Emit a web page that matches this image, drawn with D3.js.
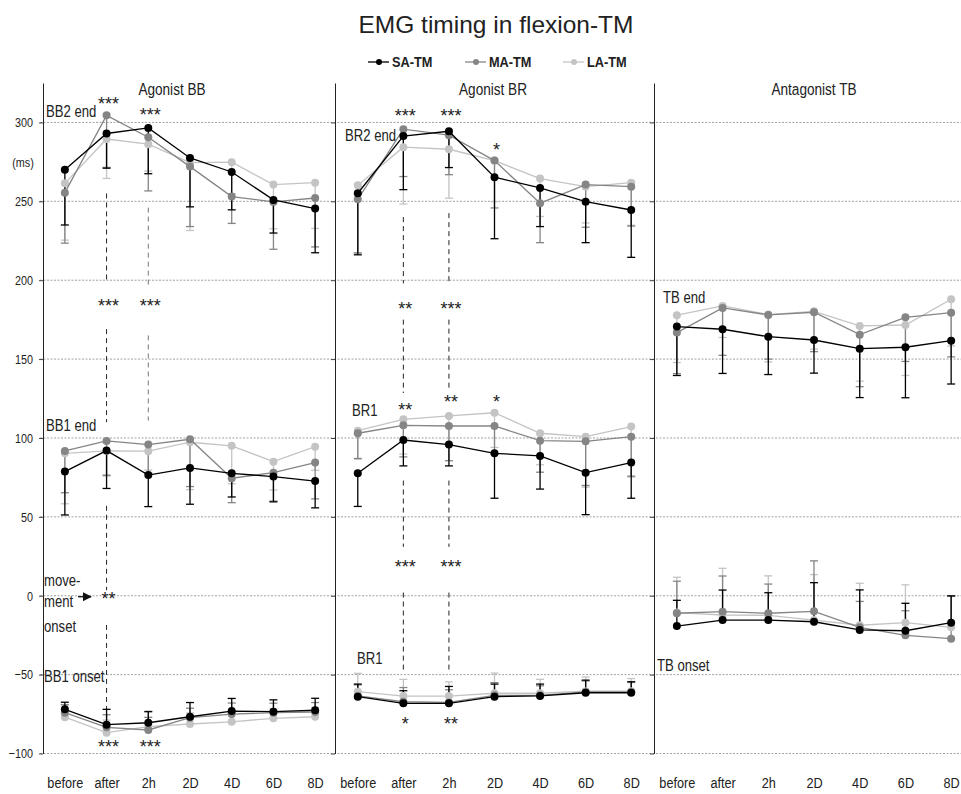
<!DOCTYPE html>
<html>
<head>
<meta charset="utf-8">
<script src="https://cdn.jsdelivr.net/npm/d3@7"></script>
<style>
  body { margin: 0; background: #fff; }
  text { font-family: "Liberation Sans", Arial, sans-serif; fill: #222; }
</style>
</head>
<body>
<div id="chart"></div>
<script>
// categories and series
var categories = ["before", "after", "2h", "2D", "4D", "6D", "8D"];
var seriesNames = ["SA-TM", "MA-TM", "LA-TM"];
var panelTitles = ["Agonist BB", "Agonist BR", "Antagonist TB"];
var yTicks = [-100, -50, 0, 50, 100, 150, 200, 250, 300];

// Agonist BB (rows: SA, MA, LA)
var bb2EndMean = [[270, 293, 296.5, 277.5, 268.6, 250.9, 245.4],
                  [255.5, 304.5, 290.6, 272, 253, 249.6, 252.1],
                  [261.4, 289.5, 286.2, 274.5, 274.8, 260.6, 261.8]];
var bb2EndErr  = [[35, 22, 29, 31, 24, 21, 28],
                  [32, 33, 34, 38, 17, 30, 31],
                  [36, 25, 17, 43, 20, 28, 29]];
var bb1EndMean = [[78.7, 92, 76.5, 81, 77.6, 75.5, 72.7],
                  [91.8, 98.1, 95.8, 99.2, 74.5, 78, 84.4],
                  [90.3, 91.8, 91.6, 97.3, 95, 85, 94.5]];
var bb1EndErr  = [[27.5, 24, 20, 23, 15, 16, 17],
                  [26.5, 22, 18, 30, 15.5, 18, 23],
                  [32, 15, 12, 30, 24, 18, 15]];
var bb1OnsetMean = [[-72, -81.7, -80.5, -76.7, -73.1, -73.5, -72.6],
                    [-74.1, -83.4, -85.1, -77.3, -75, -74.1, -73.7],
                    [-77, -86.8, -83, -81.3, -79.9, -77.7, -76.7]];
var bb1OnsetErr  = [[4.5, 9.7, 7, 9, 8, 7.5, 7.6],
                    [5, 8, 8, 6, 7, 6, 6],
                    [8, 8, 10, 7, 6, 6, 6]];

// Agonist BR
var br2EndMean = [[255.1, 291.4, 294.4, 265.3, 258.5, 249.8, 244.5],
                  [251.3, 295.7, 291.9, 275.8, 248.8, 260.6, 259.3],
                  [260.2, 284.3, 283, 275.8, 264.4, 259.3, 261.8]];
var br2EndErr  = [[39, 34, 23, 39, 24.5, 26, 30],
                  [34, 30, 25, 30, 25, 27, 25],
                  [43, 36, 31, 26, 24, 23, 27]];
var br1EndMean = [[77.6, 98.7, 95.8, 90.3, 88.6, 78, 84.4],
                  [103, 108, 107.6, 107.6, 98.3, 97.9, 100.8],
                  [104.6, 111.8, 114, 116, 103, 100.8, 107.2]];
var br1EndErr  = [[21, 16.4, 13.5, 28.5, 21, 26.6, 22.6],
                  [16, 20, 22, 18, 20, 28, 25],
                  [18, 22, 19, 22, 20, 32, 32]];
var br1OnsetMean = [[-64, -68.2, -68.2, -64, -63.5, -61.5, -61.5],
                    [-63.5, -67.2, -67.6, -63.1, -63.1, -61, -61],
                    [-60.8, -63.6, -63.6, -61.8, -61.8, -60.5, -60.5]];
var br1OnsetErr  = [[8, 8, 10.7, 8, 7.5, 8, 7],
                    [7, 9, 8, 8, 6, 7, 6],
                    [11.6, 10.6, 9, 12.8, 8.8, 9, 8]];

// Antagonist TB
var tbEndMean = [[170.6, 168.9, 164.2, 162.1, 156.6, 157.5, 161.7],
                 [166.8, 182.4, 178, 179.7, 165.5, 176.5, 179.4],
                 [177.8, 183.7, 178.2, 180.3, 171, 171.6, 187.9]];
var tbEndErr  = [[31, 28, 24, 21, 31, 32, 27.5],
                 [26, 30, 28, 25, 33, 28, 28],
                 [30, 20, 30, 24, 35, 32, 29.6]];
var tbOnsetMean = [[-19.2, -15.4, -15.4, -16.5, -21.7, -22.2, -17.1],
                   [-11.1, -10.1, -11.1, -9.9, -20, -25.1, -27.2],
                   [-10.7, -12.2, -12.4, -15.4, -18.7, -17.1, -20]];
var tbOnsetErr  = [[16.3, 19, 17.3, 24.8, 25.4, 17.4, 17],
                   [20.3, 22.6, 18.5, 32, 16.4, 15.6, 27],
                   [22.4, 29.6, 25, 28.8, 26.6, 24, 20]];

// significance marks: [panel, category, ms, text]
var stars = [
  [0, "after", 315, "***"], [0, "2h", 308, "***"],
  [0, "after", 187, "***"], [0, "2h", 187, "***"],
  [0, "after", 1.5, "**"],
  [0, "after", -92.5, "***"], [0, "2h", -92.5, "***"],
  [1, "after", 307.5, "***"], [1, "2h", 307.5, "***"], [1, "2D", 285.5, "*"],
  [1, "after", 185, "**"], [1, "2h", 185, "***"],
  [1, "after", 121, "**"], [1, "2h", 126, "**"], [1, "2D", 126, "*"],
  [1, "after", 21.5, "***"], [1, "2h", 21.5, "***"],
  [1, "after", -78, "*"], [1, "2h", -78, "**"]
];
// dashed connectors: [panel, category, ms from, ms to]
var connectors = [
  [0, "after", 255, 199.5], [0, "after", 169, 110], [0, "after", 57, 3.5], [0, "after", -18.5, -77.5],
  [0, "2h", 246, 197], [0, "2h", 165, 111],
  [1, "after", 240, 198], [1, "after", 175, 128.5], [1, "after", 73, 31], [1, "after", 2, -47],
  [1, "2h", 242.5, 198], [1, "2h", 175, 130.5], [1, "2h", 73, 31], [1, "2h", 2, -48]
];
// muscle labels: [panel, ms, text]
var muscleLabels = [
  [0, 306.8, "BB2 end"], [0, 108.2, "BB1 end"], [0, -51.3, "BB1 onset"],
  [0, 10, "move-"], [0, -3.8, "ment"], [0, -19.6, "onset"],
  [1, 292, "BR2 end"], [1, 117.7, "BR1"], [1, -39.5, "BR1"],
  [2, 189.4, "TB end"], [2, -43.9, "TB onset"]
];

var colors = ["#000000", "#858585", "#c4c4c4"];
var W = 961, H = 794;

// squeeze text horizontally around its x anchor (narrow face look)
function narrow(sel, k) {
    sel.each(function () {
        var t = d3.select(this);
        var x = +t.attr("x") || 0;
        t.attr("transform", "translate(" + x + ",0) scale(" + k + ",1) translate(" + (-x) + ",0)");
    });
}

var svg = d3.select("#chart").append("svg")
    .attr("width", W)
    .attr("height", H);

var y = d3.scaleLinear().domain([-100, 325]).range([753.5, 83]);

// panel extents along x
var panelRanges = [[44, 336], [335, 654], [654, 974]];
var xs = panelRanges.map(function (r) {
    return d3.scalePoint().domain(categories).range(r).padding(0.5);
});

// title
svg.append("text")
    .attr("x", 496).attr("y", 33)
    .attr("text-anchor", "middle")
    .attr("font-size", "24.5px")
    .text("EMG timing in flexion-TM");

// legend
var legendX = [368, 465, 563];
var legend = svg.append("g");
seriesNames.forEach(function (name, i) {
    var g = legend.append("g").attr("transform", "translate(" + legendX[i] + ",62)");
    g.append("line").attr("x1", 0).attr("x2", 21).attr("stroke", colors[i]).attr("stroke-width", 1.3);
    g.append("circle").attr("cx", 11).attr("r", 3).attr("fill", colors[i]);
    g.append("text").attr("x", 24).attr("dy", "0.36em")
        .attr("font-size", "14.5px").attr("font-weight", "bold").text(name)
        .call(narrow, 0.88);
});

// grid lines
svg.append("g").selectAll("line")
    .data(yTicks)
    .enter().append("line")
    .attr("x1", 40).attr("x2", W)
    .attr("y1", function (d) { return y(d); })
    .attr("y2", function (d) { return y(d); })
    .attr("stroke", "#8a8a8a")
    .attr("stroke-width", 0.8)
    .attr("stroke-dasharray", "2,1.5");

// panel axes
panelRanges.forEach(function (r, p) {
    var ax = d3.axisLeft(y).tickValues(yTicks).tickSize(4).tickSizeOuter(0).tickPadding(6);
    if (p > 0) ax.tickFormat("");
    var g = svg.append("g")
        .attr("transform", "translate(" + (p === 0 ? 43 : r[0]) + ",0)")
        .call(ax);
    g.select(".domain").attr("stroke", "#222");
    g.selectAll(".tick line").attr("stroke", "#444");
    g.selectAll("text").attr("font-size", "13.5px").attr("fill", "#222")
        .style("font-family", "'Liberation Sans', Arial, sans-serif")
        .call(narrow, 0.8);

    // x labels
    var xa = svg.append("g")
        .attr("transform", "translate(0," + y(-100) + ")")
        .call(d3.axisBottom(xs[p]).tickSize(0).tickPadding(23));
    xa.select(".domain").remove();
    xa.selectAll("text").attr("font-size", "15.5px").attr("fill", "#222")
        .style("font-family", "'Liberation Sans', Arial, sans-serif")
        .call(narrow, 0.82);

    // panel title
    svg.append("text")
        .attr("x", [172, 493, 814][p]).attr("y", 95)
        .attr("text-anchor", "middle")
        .attr("font-size", "17px")
        .text(panelTitles[p])
        .call(narrow, 0.8);
});

svg.append("text")
    .attr("x", 23).attr("y", 162).attr("dy", "0.35em")
    .attr("text-anchor", "middle").attr("font-size", "13.5px")
    .text("(ms)")
    .call(narrow, 0.8);

// dashed connectors
svg.append("g").selectAll("line")
    .data(connectors)
    .enter().append("line")
    .attr("x1", function (d) { return xs[d[0]](d[1]); })
    .attr("x2", function (d) { return xs[d[0]](d[1]); })
    .attr("y1", function (d) { return y(d[2]); })
    .attr("y2", function (d) { return y(d[3]); })
    .attr("stroke", function (d) { return d[0] === 0 && d[1] === "2h" ? "#777" : "#222"; })
    .attr("stroke-width", 1)
    .attr("stroke-dasharray", "5,4");

// data groups
var groups = [
    {panel: 0, mean: bb2EndMean, err: bb2EndErr, dir: -1},
    {panel: 0, mean: bb1EndMean, err: bb1EndErr, dir: -1},
    {panel: 0, mean: bb1OnsetMean, err: bb1OnsetErr, dir: 1},
    {panel: 1, mean: br2EndMean, err: br2EndErr, dir: -1},
    {panel: 1, mean: br1EndMean, err: br1EndErr, dir: -1},
    {panel: 1, mean: br1OnsetMean, err: br1OnsetErr, dir: 1},
    {panel: 2, mean: tbEndMean, err: tbEndErr, dir: -1},
    {panel: 2, mean: tbOnsetMean, err: tbOnsetErr, dir: 1}
];

var line = d3.line();
var order = [2, 1, 0];

groups.forEach(function (grp) {
    var x = xs[grp.panel];
    var g = svg.append("g");

    // error bars
    order.forEach(function (s) {
        var pts = grp.mean[s].map(function (v, i) {
            return {x: x(categories[i]), v: v, e: v + grp.dir * grp.err[s][i]};
        });
        var eb = g.append("g").attr("stroke", colors[s]).attr("stroke-width", 1.3);
        eb.selectAll("line.v").data(pts).enter().append("line")
            .attr("x1", function (d) { return d.x; })
            .attr("x2", function (d) { return d.x; })
            .attr("y1", function (d) { return y(d.v); })
            .attr("y2", function (d) { return y(d.e); });
        eb.selectAll("line.c").data(pts).enter().append("line")
            .attr("x1", function (d) { return d.x - 4; })
            .attr("x2", function (d) { return d.x + 4; })
            .attr("y1", function (d) { return y(d.e); })
            .attr("y2", function (d) { return y(d.e); });
    });

    // lines and markers
    order.forEach(function (s) {
        var pts = grp.mean[s].map(function (v, i) { return [x(categories[i]), y(v)]; });
        g.append("path")
            .attr("d", line(pts))
            .attr("fill", "none")
            .attr("stroke", colors[s])
            .attr("stroke-width", 1.3);
        g.selectAll(null).data(pts).enter().append("circle")
            .attr("cx", function (d) { return d[0]; })
            .attr("cy", function (d) { return d[1]; })
            .attr("r", 4)
            .attr("fill", colors[s]);
    });
});

// stars
svg.append("g").selectAll("text")
    .data(stars)
    .enter().append("text")
    .attr("x", function (d) { return xs[d[0]](d[1]) + 2; })
    .attr("y", function (d) { return y(d[2]); })
    .attr("dy", "0.62em")
    .attr("text-anchor", "middle")
    .attr("font-size", "18px")
    .attr("fill", "#222")
    .text(function (d) { return d[3]; });

// muscle labels
var labelDx = {"BB2 end": 2, "BB1 end": 2, "BB1 onset": 0, "move-": 0, "ment": 0, "onset": 0,
               "BR2 end": 10, "BR1": 17, "TB end": 9, "TB onset": 3};
svg.append("g").selectAll("text")
    .data(muscleLabels)
    .enter().append("text")
    .attr("x", function (d, i) { return panelRanges[d[0]][0] + labelDx[d[2]] + (i === 8 ? 5 : 0); })
    .attr("y", function (d) { return y(d[1]); })
    .attr("dy", "0.35em")
    .attr("font-size", "16px")
    .text(function (d) { return d[2]; })
    .call(narrow, 0.82);

// movement onset arrow
svg.append("defs").append("marker")
    .attr("id", "arr").attr("viewBox", "0 0 10 10")
    .attr("refX", 9).attr("refY", 5)
    .attr("markerWidth", 7).attr("markerHeight", 7)
    .attr("orient", "auto")
    .append("path").attr("d", "M0,0L10,5L0,10z").attr("fill", "#111");
svg.append("line")
    .attr("x1", 78).attr("x2", 91)
    .attr("y1", y(0) + 1).attr("y2", y(0) + 1)
    .attr("stroke", "#111").attr("stroke-width", 1.3)
    .attr("marker-end", "url(#arr)");
</script>
</body>
</html>
